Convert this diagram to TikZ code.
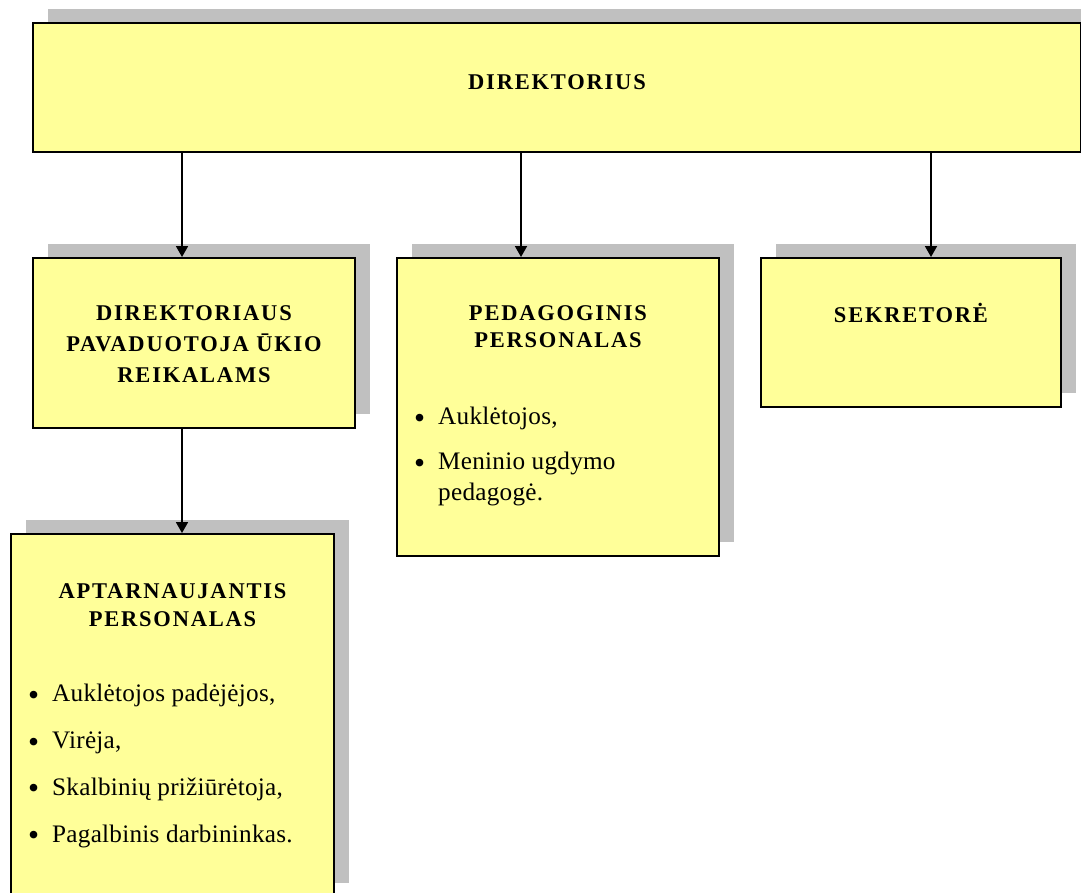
\documentclass[tikz,border=0pt]{standalone}
\usepackage{fontspec}
\setmainfont{Liberation Serif}
\newfontfamily\headfont{Liberation Serif}[LetterSpace=8]
\newfontfamily\itemfont{Liberation Serif}[LetterSpace=1]
\usetikzlibrary{positioning,shadows,arrows.meta}
\definecolor{boxyellow}{HTML}{FFFF99}
\definecolor{shadowgray}{HTML}{C0C0C0}
\newcommand{\blt}{\raisebox{-3.5pt}{\scalebox{1.25}{\textbullet}}}

\begin{document}
\begin{tikzpicture}[x=1pt,y=-1pt]
\tikzset{box style/.style = {draw=black, line width=2pt, fill=boxyellow, anchor=north west, inner sep=0pt,
  drop shadow={shadow xshift=15pt, shadow yshift=14pt, fill=shadowgray, opacity=1}},
  head style/.style = {anchor=north, inner sep=0pt, align=center, font=\headfont\bfseries\fontsize{22.5}{#1}\selectfont},
  item style/.style = {anchor=north west, inner sep=0pt, font=\itemfont\fontsize{25.2}{31}\selectfont},
  arr style/.style = {line width=1.8pt, -{Triangle[length=11pt,width=12pt]}}}
\useasboundingbox (0,0) rectangle (1081,892);
% langeliai
\node[box style, minimum width=1048pt, minimum height=129pt] (dir) at (32,22) {};
\node[box style, minimum width=322pt, minimum height=170pt] (pav) at (32,257) {};
\node[box style, minimum width=322pt, minimum height=298pt] (ped) at (396,257) {};
\node[box style, minimum width=300pt, minimum height=149pt] (sek) at (760,257) {};
\node[box style, minimum width=323pt, minimum height=363pt] (apt) at (10,533) {};
% antraštės
\node[head style=30, below=52pt of dir.north] (dirt) {DIREKTORIUS};
\node[head style=31, below=48pt of pav.north] (pavt) {DIREKTORIAUS\\PAVADUOTOJA ŪKIO\\REIKALAMS};
\node[head style=27, below=48pt of ped.north] (pedt) {PEDAGOGINIS\\PERSONALAS};
\node[head style=30, below=46pt of sek.north] (sekt) {SEKRETORĖ};
\node[head style=28, below=50pt of apt.north] (aptt) {APTARNAUJANTIS\\PERSONALAS};
% sąrašai
\node[item style, below right=146pt and 18pt of ped.north west] (pedl) {%
  \begin{tabular}{@{}l@{\hspace{13pt}}l@{}}
  \blt & Auklėtojos,\\[14pt]
  \blt & Meninio ugdymo\\
       & pedagogė.
  \end{tabular}};
\node[item style, below right=147pt and 18pt of apt.north west] (aptl) {%
  \begin{tabular}{@{}l@{\hspace{13pt}}l@{}}
  \blt & Auklėtojos padėjėjos,\\[15.7pt]
  \blt & Virėja,\\[15.7pt]
  \blt & Skalbinių prižiūrėtoja,\\[15.7pt]
  \blt & Pagalbinis darbininkas.
  \end{tabular}};
% rodyklės
\draw[arr style] ([xshift=150pt]dir.south west) -- ([xshift=150pt]pav.north west);
\draw[arr style] ([xshift=489pt]dir.south west) -- ([xshift=125pt]ped.north west);
\draw[arr style] ([xshift=899pt]dir.south west) -- ([xshift=171pt]sek.north west);
\draw[arr style] ([xshift=150pt]pav.south west) -- ([xshift=172pt]apt.north west);
\end{tikzpicture}
\end{document}
